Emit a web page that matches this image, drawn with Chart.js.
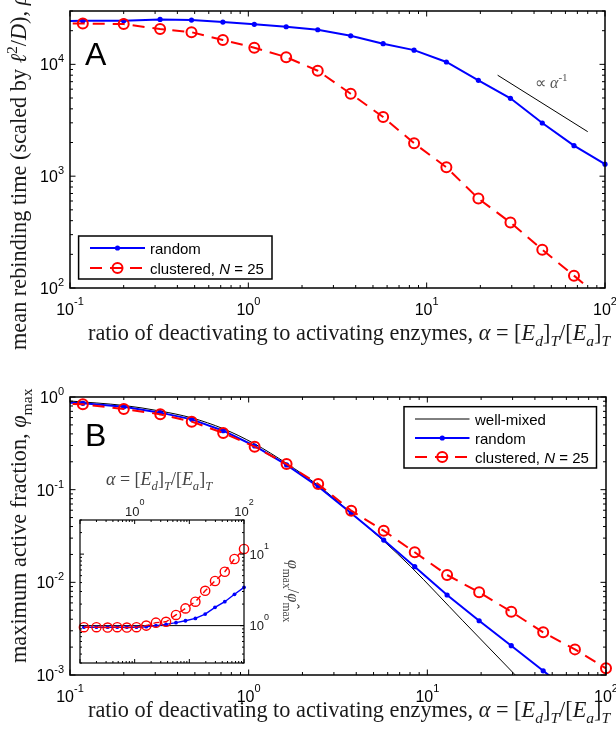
<!DOCTYPE html>
<html lang="en">
<head>
<meta charset="UTF-8">
<title>Rebinding time and maximum active fraction</title>
<script src="https://cdn.jsdelivr.net/npm/chart.js@4.4.1/dist/chart.umd.min.js"></script>
<style>
  body { margin: 0; background: #fff; }
  .stack { position: relative; width: 616px; height: 736px; }
  .stack canvas { position: absolute; left: 0; top: 0; }
</style>
</head>
<body>
<div class="stack">
  <canvas id="panelA" width="616" height="736"></canvas>
  <canvas id="panelB" width="616" height="736"></canvas>
  <canvas id="inset" width="616" height="736"></canvas>
</div>
<script>
// alpha values used by both panels; the first one lies left of the axes,
// only the stub of line coming from it is visible
const alpha = [0.08, 0.118, 0.2, 0.32, 0.48, 0.72, 1.08, 1.63, 2.45, 3.75, 5.7, 8.5, 12.9, 19.5, 29.5, 44.5, 67, 100];

// panel A: mean rebinding time
const rebindRandom = [24300, 24500, 24500, 25200, 24900, 23900, 22800, 21700, 20400, 18000, 15300, 13400, 10500, 7200, 4970, 2990, 1875, 1280];
const rebindClustered = [23000, 23200, 22900, 20700, 19400, 16500, 14100, 11600, 8770, 5460, 3380, 1970, 1200, 631, 385, 220, 129, 75];
// guide line, proportional to alpha^-1
const slopeX = [25, 80];
const slopeY = [8000, 2500];

// panel B: maximum active fraction
const phiRandom = [0.88, 0.855, 0.787, 0.678, 0.574, 0.433, 0.296, 0.185, 0.108, 0.0556, 0.0286, 0.01476, 0.0073, 0.00385, 0.00207, 0.00111, 0.0006, 0.00032];
const phiClustered = [0.86, 0.834, 0.743, 0.650, 0.542, 0.409, 0.291, 0.189, 0.115, 0.0593, 0.0361, 0.0211, 0.0120, 0.0078, 0.00482, 0.00289, 0.00189, 0.00118];
const alphaWellMixed = [0.1, 0.2, 0.32, 0.48, 0.72, 1.08, 1.63, 2.45, 3.75, 5.7, 8.07, 15.7, 30.6, 45];
const phiWellMixed = [0.905, 0.81, 0.705, 0.595, 0.455, 0.312, 0.192, 0.111, 0.056, 0.0279, 0.0148, 0.0039, 0.00103, 0.00048];

// inset: phi_max over the well-mixed value (same alpha, without the first)
const alphaInset = alpha.slice(1);
const ratioRandom = [0.95, 0.95, 0.95, 0.95, 0.95, 0.95, 0.965, 1.0, 1.04, 1.10, 1.17, 1.26, 1.45, 1.80, 2.16, 2.74, 3.43];
const ratioClustered = [0.95, 0.95, 0.94, 0.95, 0.94, 0.95, 1.0, 1.10, 1.13, 1.41, 1.74, 2.16, 3.07, 4.21, 5.67, 8.54, 11.8];
const ratioWellMixed = [1, 1];
const ratioWellMixedX = [0.1, 100];

// tick labels, as powers of ten
const xTickExp = [-1, 0, 1, 2];
const yTickExpA = [2, 3, 4];
const yTickExpB = [-3, -2, -1, 0];
const insetXTickExp = [0, 2];
const insetYTickExp = [0, 1];

const SANS = '"Liberation Sans", Arial, sans-serif';
const SERIF = '"Liberation Serif", "Times New Roman", serif';
const BLUE = '#0000ff', RED = '#ff0000';

const pts = (xs, ys) => xs.map((x, i) => ({ x, y: ys[i] }));

const alphaLabel = [['α', 'i'], [' = ['], ['E', 'i'], ['d', 'ib'], [']'], ['T', 'ib'], ['/['], ['E', 'i'], ['a', 'ib'], [']'], ['T', 'ib']];

// text made of pieces: flags i = italic, b = subscript, p = superscript
function rich(ctx, parts, x, y, size, family, align) {
  const items = parts.map(([t, f = '']) => {
    const small = f.includes('b') || f.includes('p');
    const font = (f.includes('i') ? 'italic ' : '') + (small ? size * 0.7 : size) + 'px ' + family;
    ctx.font = font;
    const dy = f.includes('b') ? size * 0.28 : f.includes('p') ? -size * 0.42 : 0;
    return { t, font, dy, w: ctx.measureText(t).width };
  });
  const total = items.reduce((s, it) => s + it.w, 0);
  let cx = align === 'center' ? x - total / 2 : align === 'right' ? x - total : x;
  ctx.textAlign = 'left';
  ctx.textBaseline = 'alphabetic';
  for (const it of items) {
    ctx.font = it.font;
    ctx.fillText(it.t, cx, y + it.dy);
    cx += it.w;
  }
  return total;
}

// "10" with a raised exponent
function powLabel(ctx, e, x, y, size, align, rise) {
  const es = Math.round(size * 0.7);
  ctx.font = size + 'px ' + SANS;
  const w1 = ctx.measureText('10').width;
  ctx.font = es + 'px ' + SANS;
  const w2 = ctx.measureText(String(e)).width;
  const left = align === 'center' ? x - (w1 + w2) / 2 : align === 'right' ? x - w1 - w2 : x;
  ctx.textAlign = 'left';
  ctx.textBaseline = 'alphabetic';
  ctx.font = size + 'px ' + SANS;
  ctx.fillText('10', left, y);
  ctx.font = es + 'px ' + SANS;
  ctx.fillText(String(e), left + w1, y - rise);
}

function logTicks(min, max) {
  const out = [];
  for (let d = Math.floor(Math.log10(min)); d <= Math.ceil(Math.log10(max)); d++) {
    for (let m = 1; m <= 9; m++) {
      const v = m * Math.pow(10, d);
      if (v >= min * 0.999 && v <= max * 1.001) out.push({ v, major: m === 1 });
    }
  }
  return out;
}

// box round the axes with inward ticks on all four sides
function frame(chart, big, small, width) {
  const { ctx, chartArea: a, scales: { x, y } } = chart;
  ctx.save();
  ctx.strokeStyle = '#000';
  ctx.lineWidth = 1;
  ctx.beginPath();
  for (const t of logTicks(x.min, x.max)) {
    const px = x.getPixelForValue(t.v), l = t.major ? big : small;
    ctx.moveTo(px, a.bottom); ctx.lineTo(px, a.bottom - l);
    ctx.moveTo(px, a.top); ctx.lineTo(px, a.top + l);
  }
  for (const t of logTicks(y.min, y.max)) {
    const py = y.getPixelForValue(t.v), l = t.major ? big : small;
    ctx.moveTo(a.left, py); ctx.lineTo(a.left + l, py);
    ctx.moveTo(a.right, py); ctx.lineTo(a.right - l, py);
  }
  ctx.stroke();
  ctx.lineWidth = width;
  ctx.strokeRect(a.left, a.top, a.right - a.left, a.bottom - a.top);
  ctx.restore();
}

function mainTickLabels(chart, yExps) {
  const { ctx, chartArea: a, scales: { x, y } } = chart;
  ctx.fillStyle = '#000';
  xTickExp.forEach(e => powLabel(ctx, e, x.getPixelForValue(Math.pow(10, e)), a.bottom + 27, 16, 'center', 10));
  yExps.forEach(e => powLabel(ctx, e, a.left - 6, y.getPixelForValue(Math.pow(10, e)) + 6, 16, 'right', 8));
}

function sample(ctx, kind, x0, x1, y) {
  ctx.save();
  ctx.beginPath();
  if (kind === 'well') { ctx.strokeStyle = '#000'; ctx.lineWidth = 1; }
  if (kind === 'random') { ctx.strokeStyle = BLUE; ctx.lineWidth = 2; }
  if (kind === 'clustered') { ctx.strokeStyle = RED; ctx.lineWidth = 2; ctx.setLineDash([12, 8]); }
  ctx.moveTo(x0, y); ctx.lineTo(x1, y);
  ctx.stroke();
  ctx.setLineDash([]);
  const xm = (x0 + x1) / 2;
  if (kind === 'random') {
    ctx.fillStyle = BLUE;
    ctx.beginPath(); ctx.arc(xm, y, 2.6, 0, 2 * Math.PI); ctx.fill();
  }
  if (kind === 'clustered') {
    ctx.beginPath(); ctx.arc(xm, y, 5, 0, 2 * Math.PI); ctx.stroke();
  }
  ctx.restore();
}

const legendRows = {
  well: [['well-mixed']],
  random: [['random']],
  clustered: [['clustered, '], ['N', 'i'], [' = 25']]
};

function legendBox(ctx, box, kinds, rowY) {
  ctx.save();
  ctx.fillStyle = '#fff';
  ctx.fillRect(box.x, box.y, box.w, box.h);
  ctx.strokeStyle = '#000';
  ctx.lineWidth = 1.5;
  ctx.strokeRect(box.x, box.y, box.w, box.h);
  kinds.forEach((k, i) => {
    sample(ctx, k, box.x0, box.x1, rowY[i]);
    ctx.fillStyle = '#000';
    rich(ctx, legendRows[k], box.tx, rowY[i] + 5.5, 15, SANS, 'left');
  });
  ctx.restore();
}

function rotated(ctx, parts, x, y, size, angle) {
  ctx.save();
  ctx.translate(x, y);
  ctx.rotate(angle);
  rich(ctx, parts, 0, 0, size, SERIF, angle < 0 ? 'left' : 'center');
  ctx.restore();
}

const xTitle = [['ratio of deactivating to activating enzymes, ']].concat(alphaLabel);

const panelAPlugin = {
  id: 'panelADecor',
  afterDraw(chart) {
    const { ctx, chartArea: a } = chart;
    frame(chart, 5.5, 3, 1.5);
    mainTickLabels(chart, yTickExpA);
    ctx.save();
    ctx.fillStyle = '#000';
    ctx.font = '32px ' + SANS;
    ctx.fillText('A', 85, 65);
    ctx.fillStyle = '#555';
    rich(ctx, [['∝ '], ['α', 'i'], ['-1', 'p']], 535, 88, 16, SERIF, 'left');
    ctx.fillStyle = '#1a1a1a';
    rich(ctx, xTitle, 88, a.bottom + 52, 22.3, SERIF, 'left');
    rotated(ctx, [['mean rebinding time (scaled by '], ['ℓ', 'i'], ['2', 'p'], ['/'], ['D', 'i'], ['), '], ['ρ̄', 'i']], 26, 350, 22.3, -Math.PI / 2);
    legendBox(ctx, { x: 78.6, y: 236, w: 193.4, h: 43, x0: 90, x1: 145, tx: 150 }, ['random', 'clustered'], [248, 268]);
    ctx.restore();
  }
};

const panelBPlugin = {
  id: 'panelBDecor',
  afterDraw(chart) {
    const { ctx, chartArea: a } = chart;
    frame(chart, 5.5, 3, 1.5);
    mainTickLabels(chart, yTickExpB);
    ctx.save();
    ctx.fillStyle = '#000';
    ctx.font = '32px ' + SANS;
    ctx.fillText('B', 85, 446);
    ctx.fillStyle = '#1a1a1a';
    rich(ctx, xTitle, 88, a.bottom + 42, 22.3, SERIF, 'left');
    rotated(ctx, [['maximum active fraction, '], ['φ', 'i'], ['max', 'b']], 26, 663, 22.3, -Math.PI / 2);
    legendBox(ctx, { x: 404, y: 406.7, w: 192.5, h: 61.3, x0: 415, x1: 469.5, tx: 475 }, ['well', 'random', 'clustered'], [419, 438, 457]);
    ctx.restore();
  }
};

const insetPlugin = {
  id: 'insetDecor',
  beforeDatasetsDraw(chart) {
    const { ctx, chartArea: a } = chart;
    ctx.save();
    ctx.fillStyle = '#fff';
    ctx.fillRect(a.left, a.top, a.right - a.left, a.bottom - a.top);
    ctx.restore();
  },
  afterDraw(chart) {
    const { ctx, chartArea: a, scales: { x, y } } = chart;
    frame(chart, 4, 2, 1.2);
    ctx.save();
    ctx.fillStyle = '#222';
    insetXTickExp.forEach(e => powLabel(ctx, e, x.getPixelForValue(Math.pow(10, e)), a.top - 4, 13, 'center', 11));
    insetYTickExp.forEach(e => powLabel(ctx, e, a.right + 5.5, y.getPixelForValue(Math.pow(10, e)) + 4.5, 13, 'left', 10));
    ctx.fillStyle = '#444';
    rich(ctx, alphaLabel, 106, 485, 18, SERIF, 'left');
    rotated(ctx, [['φ', 'i'], ['max', 'b'], ['/'], ['φ̂', 'i'], ['max', 'b']], 288, 591, 16.5, Math.PI / 2);
    ctx.restore();
  }
};

function options(pad, yMin, yMax) {
  return {
    responsive: false,
    animation: false,
    events: [],
    layout: { padding: pad },
    plugins: { legend: { display: false }, tooltip: { enabled: false } },
    scales: {
      x: { type: 'logarithmic', min: 0.1, max: 100, display: false },
      y: { type: 'logarithmic', min: yMin, max: yMax, display: false }
    }
  };
}

const clipMain = { left: 0, top: 0, right: 10, bottom: 0 };

function randomSet(data, r, w) {
  return { data, borderColor: BLUE, borderWidth: w, pointRadius: r, pointBackgroundColor: BLUE,
           pointBorderWidth: 0, tension: 0, fill: false, clip: clipMain };
}
function clusteredSet(data, r, w, dash) {
  return { data, borderColor: RED, borderWidth: w, borderDash: dash, pointRadius: r, pointBorderColor: RED,
           pointBackgroundColor: 'rgba(0,0,0,0)', pointBorderWidth: w, tension: 0, fill: false, clip: clipMain };
}

new Chart(document.getElementById('panelA'), {
  type: 'line',
  data: {
    datasets: [
      clusteredSet(pts(alpha, rebindClustered), 5, 2, [12, 8]),
      randomSet(pts(alpha, rebindRandom), 2.6, 2),
      { data: pts(slopeX, slopeY), borderColor: '#000', borderWidth: 1, pointRadius: 0, fill: false }
    ]
  },
  options: options({ left: 70, top: 11, right: 11, bottom: 448 }, 100, 30000),
  plugins: [panelAPlugin]
});

new Chart(document.getElementById('panelB'), {
  type: 'line',
  data: {
    datasets: [
      clusteredSet(pts(alpha, phiClustered), 5, 2, [12, 8]),
      randomSet(pts(alpha, phiRandom), 2.6, 2),
      { data: pts(alphaWellMixed, phiWellMixed), borderColor: '#000', borderWidth: 1, pointRadius: 0,
        cubicInterpolationMode: 'monotone', fill: false, clip: clipMain }
    ]
  },
  options: options({ left: 70, top: 397, right: 10, bottom: 61 }, 0.001, 1),
  plugins: [panelBPlugin]
});

new Chart(document.getElementById('inset'), {
  type: 'line',
  data: {
    datasets: [
      Object.assign(clusteredSet(pts(alphaInset, ratioClustered), 4.6, 1.4, [6, 4]), { clip: false }),
      Object.assign(randomSet(pts(alphaInset, ratioRandom), 1.9, 1.4), { clip: false }),
      { data: pts(ratioWellMixedX, ratioWellMixed), borderColor: '#000', borderWidth: 1, pointRadius: 0, fill: false }
    ]
  },
  options: options({ left: 80, top: 520, right: 372, bottom: 73 }, 0.3, 30),
  plugins: [insetPlugin]
});
</script>
</body>
</html>
